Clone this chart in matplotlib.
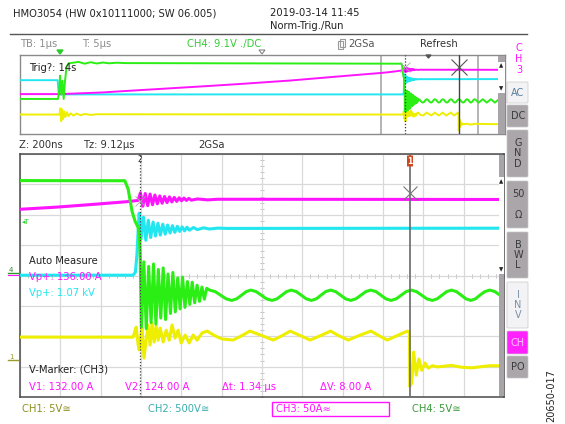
import numpy as np
import matplotlib
matplotlib.use("Agg")
import matplotlib.pyplot as plt
from matplotlib.patches import Rectangle, FancyBboxPatch, Polygon

plt.rcParams['font.family'] = ['DejaVu Sans']

# --- waveform data: (time in us after trigger, level in divisions 0..8) ---
ch4_green = [
    (-1.0, 3.55), (-0.06, 3.55), (-0.03, 4.4), (-0.01, 5.9), (0.02, 4.0), (0.05, 5.4),
    (0.08, 3.55), (0.11, 5.2), (0.15, 6.8), (0.20, 7.15), (0.28, 7.2), (0.45, 7.3),
    (0.60, 7.12), (0.75, 7.27), (0.90, 7.14), (1.05, 7.24), (1.20, 7.16), (1.40, 7.22),
    (1.60, 7.18), (8.44, 7.12), (8.456, 6.85), (8.476, 6.10), (8.491, 5.78), (8.506, 5.58),
    (8.512, 5.30), (8.516, 4.60),
    (8.522, 2.30), (8.534, 4.45), (8.546, 2.25), (8.558, 4.30), (8.570, 2.45), (8.582, 4.38),
    (8.594, 2.40), (8.606, 4.20), (8.618, 2.60), (8.630, 4.25), (8.642, 2.55), (8.654, 4.05),
    (8.666, 2.75), (8.678, 4.10), (8.690, 2.80), (8.702, 3.92), (8.714, 2.90), (8.726, 3.95),
    (8.738, 2.95), (8.750, 3.80), (8.762, 3.05), (8.774, 3.78), (8.786, 3.10), (8.798, 3.68),
    (8.810, 3.15), (8.822, 3.62), (8.834, 3.22), (8.846, 3.58),
    (8.860, 3.52), (8.888, 3.47), (8.915, 3.35), (8.943, 3.23), (8.970, 3.18), (8.994, 3.23),
    (9.018, 3.35), (9.042, 3.47), (9.065, 3.52), (9.091, 3.47), (9.117, 3.35), (9.143, 3.23),
    (9.170, 3.18), (9.194, 3.23), (9.218, 3.35), (9.242, 3.47), (9.265, 3.52), (9.290, 3.47),
    (9.315, 3.35), (9.340, 3.23), (9.365, 3.18), (9.389, 3.23), (9.412, 3.35), (9.436, 3.47),
    (9.460, 3.52), (9.485, 3.47), (9.510, 3.35), (9.535, 3.23), (9.560, 3.18), (9.585, 3.23),
    (9.610, 3.35), (9.635, 3.47), (9.660, 3.52), (9.685, 3.47), (9.710, 3.35), (9.735, 3.23),
    (9.760, 3.18), (9.785, 3.23), (9.810, 3.35), (9.835, 3.47), (9.860, 3.52), (9.886, 3.47),
    (9.912, 3.35), (9.938, 3.23), (9.965, 3.18), (9.988, 3.23), (10.012, 3.35), (10.036, 3.47),
    (10.060, 3.52), (10.084, 3.47), (10.108, 3.35), (10.132, 3.23), (10.155, 3.18), (10.178, 3.23),
    (10.200, 3.35), (10.225, 3.47), (10.250, 3.52), (10.275, 3.47), (10.300, 3.35),
    (10.350, 3.18), (10.400, 3.35), (10.450, 3.52), (10.500, 3.35), (10.550, 3.18), (10.600, 3.35),
    (10.650, 3.52), (10.700, 3.35), (10.750, 3.18), (10.800, 3.35), (10.830, 3.45),
]

ch2_cyan = [
    (-1.0, 5.45), (-0.07, 5.45), (-0.04, 4.01), (8.480, 4.01), (8.492, 4.10), (8.500, 4.70),
    (8.506, 5.50), (8.511, 6.05), (8.520, 5.20), (8.532, 5.92), (8.544, 5.16), (8.556, 5.82),
    (8.568, 5.25), (8.580, 5.76), (8.592, 5.30), (8.604, 5.72), (8.616, 5.33), (8.628, 5.69),
    (8.640, 5.36), (8.652, 5.66), (8.664, 5.40), (8.676, 5.64), (8.688, 5.42), (8.700, 5.62),
    (8.712, 5.45), (8.724, 5.60), (8.736, 5.47), (8.748, 5.59), (8.760, 5.49), (8.780, 5.58),
    (8.800, 5.51), (8.830, 5.57), (8.860, 5.53), (8.900, 5.56), (8.950, 5.55), (10.830, 5.56),
]

ch3_magenta = [
    (-1.0, 4.04), (-0.02, 4.04), (1.0, 4.20), (2.2, 4.50), (3.5, 4.82), (4.5, 5.08),
    (5.7, 5.42), (6.8, 5.80), (7.92, 6.18), (8.10, 6.25), (8.30, 6.35), (8.45, 6.43),
    (8.505, 6.47), (8.517, 6.72), (8.529, 6.28), (8.541, 6.70), (8.553, 6.30), (8.565, 6.68),
    (8.577, 6.33), (8.589, 6.65), (8.601, 6.36), (8.613, 6.62), (8.625, 6.38), (8.637, 6.60),
    (8.649, 6.40), (8.661, 6.59), (8.673, 6.42), (8.685, 6.57), (8.697, 6.44), (8.709, 6.56),
    (8.721, 6.46), (8.733, 6.55), (8.745, 6.47), (8.757, 6.54), (8.769, 6.48), (8.80, 6.52),
    (8.85, 6.49), (8.90, 6.51), (10.83, 6.50),
]

ch1_yellow = [
    (-1.0, 1.97), (-0.02, 1.97), (0.0, 2.6), (0.02, 1.3), (0.04, 2.5), (0.06, 1.5),
    (0.09, 2.3), (0.12, 1.7), (0.16, 2.2), (0.20, 1.8), (0.25, 2.1), (0.32, 1.86),
    (0.40, 2.07), (0.50, 1.90), (0.60, 2.03), (0.75, 1.93), (0.90, 2.0), (8.481, 1.97),
    (8.491, 2.20), (8.496, 2.30), (8.506, 1.71), (8.511, 1.55), (8.521, 2.11), (8.525, 2.27),
    (8.535, 1.28), (8.545, 1.87), (8.555, 2.37), (8.565, 1.71), (8.575, 2.43), (8.585, 1.81),
    (8.595, 2.34), (8.605, 1.87), (8.615, 2.27), (8.630, 1.81), (8.645, 2.20), (8.660, 1.87),
    (8.674, 2.37), (8.689, 1.94), (8.704, 2.20), (8.719, 1.78), (8.739, 2.04), (8.759, 1.78),
    (8.779, 2.04), (8.798, 1.87), (8.823, 2.11), (8.848, 2.17), (8.888, 2.01), (8.922, 1.91),
    (8.977, 1.875), (9.02, 2.02), (9.06, 2.17), (9.12, 2.02), (9.176, 1.875), (9.22, 2.02),
    (9.26, 2.17), (9.31, 2.02), (9.359, 1.875), (9.41, 2.02), (9.46, 2.17), (9.50, 2.02),
    (9.548, 1.875), (9.60, 2.02), (9.66, 2.17), (9.70, 2.02), (9.741, 1.875), (9.79, 2.02),
    (9.841, 2.17), (9.851, 2.12), (9.853, 0.35), (9.862, 0.45), (9.872, 1.48), (9.885, 0.72),
    (9.898, 1.25), (9.912, 0.88), (9.928, 1.12), (9.945, 0.95), (9.965, 1.03), (9.99, 0.99),
    (10.06, 1.04), (10.11, 0.98), (10.16, 0.96), (10.21, 1.00), (10.25, 1.03), (10.83, 0.99),
]

# record window, zoom window and cursors (us)
overview_span = (-1.0, 11.0)
zoom_span = (7.92, 10.32)
cursor_v2 = 8.516
cursor_v1 = 9.856
marker_v1_level = 6.70
marker_v2_level = 6.46

YEL = '#eeee00'
GRN = '#2aee14'
CYN = '#22e6f0'
MAG = '#ff14ff'
TXT = '#222222'

W, H = 565, 424
fig = plt.figure(figsize=(W / 100, H / 100), dpi=100)


def px_axes(x0, y0, x1, y1, **kw):
    return fig.add_axes([x0 / W, 1 - y1 / H, (x1 - x0) / W, (y1 - y0) / H], **kw)


# screen furniture layer in pixel units, kept above the trace windows
bg = px_axes(0, 0, W, H)
bg.set_xlim(0, W)
bg.set_ylim(H, 0)
bg.axis('off')
bg.set_zorder(10)


def label(x, y, s, color=TXT, size=7.2, ha='left', **kw):
    bg.text(x, y, s, color=color, fontsize=size, ha=ha, va='center', **kw)


# header
label(13, 13, "HMO3054 (HW 0x10111000; SW 06.005)")
label(270, 13, "2019-03-14 11:45")
label(270, 26, "Norm-Trig./Run")
bg.plot([10, 527], [34, 34], color='#555555', lw=1.0)

label(20, 44, "TB: 1µs", color='#8c8c8c')
label(82, 44, "T: 5µs", color='#8c8c8c')
label(187, 44, "CH4: 9.1V ./DC", color='#33cc33')
bg.add_patch(Rectangle((340, 39), 5, 8, fill=False, ec='#9a9a9a', lw=0.8))
bg.add_patch(Rectangle((338, 41), 5, 8, fill=False, ec='#9a9a9a', lw=0.8))
label(348, 44, "2GSa", color='#555555')
label(420, 44, "Refresh", color='#333333')
bg.add_patch(Polygon([[57, 50], [63, 50], [60, 54]], color='#2acc2a'))
bg.add_patch(Polygon([[259, 50], [265, 50], [262, 54]], fill=False, ec='#777777', lw=0.7))
bg.add_patch(Polygon([[426, 55], [431, 55], [428.5, 58]], color='#555555'))

label(19, 145, "Z: 200ns", color='#333333')
label(83, 145, "Tz: 9.12µs", color='#333333')
label(198, 145, "2GSa", color='#333333')

# ---- overview (full record) ----
ov = px_axes(20, 55, 505, 134)
ov.set_xlim(*overview_span)
ov.set_ylim(0, 8)
ov.set_xticks([])
ov.set_yticks([])
for s in ov.spines.values():
    s.set_color('#8a8a8a')
    s.set_linewidth(1.0)
for t in zoom_span:
    ov.axvline(t, color='#b4b4b4', lw=1.4, zorder=1)
for data, col in [(ch1_yellow, YEL), (ch2_cyan, CYN), (ch3_magenta, MAG), (ch4_green, GRN)]:
    arr = np.array(data)
    ov.plot(arr[:, 0], arr[:, 1], color=col, lw=1.4, zorder=3)
ov.axvline(cursor_v2, color='#333333', lw=0.9, ls=(0, (1, 1.5)), zorder=4)
ov.axvline(cursor_v1, color='#444444', lw=1.0, zorder=4)
ov.plot([cursor_v1], [6.8], marker='x', ms=11, mew=0.8, color='#555555', zorder=5)
ov.plot([cursor_v2], [6.8], marker='x', ms=7, mew=0.6, color='#aaaaaa', zorder=5)
ov.text(-0.78, 6.7, "Trig?: 14s", color=TXT, fontsize=7.2, va='center', zorder=6)

# overview scroll bar
bg.add_patch(Rectangle((498, 56), 6.5, 6, color='#a8a4a8', lw=0))
bg.add_patch(Rectangle((498, 62), 6.5, 31, color='white', lw=0))
bg.add_patch(Rectangle((498, 93), 6.5, 40.5, color='#a8a4a8', lw=0))
label(501.5, 66, "▲", size=4, ha='center')
label(501.5, 89, "▼", size=4, ha='center')

# ---- zoomed main window ----
ax = px_axes(20, 154, 504, 397)
ax.set_xlim(*zoom_span)
ax.set_ylim(0, 8)
ax.set_xticks(np.linspace(zoom_span[0], zoom_span[1], 13))
ax.set_yticks(np.arange(0, 9))
ax.tick_params(length=0, labelbottom=False, labelleft=False)
ax.grid(True, color='#d9d9d9', lw=0.9, zorder=0)
for s in ax.spines.values():
    s.set_color('#4a4a4a')
    s.set_linewidth(1.1)

# centre cross with minor ticks
xc = 0.5 * (zoom_span[0] + zoom_span[1])
tx = np.linspace(zoom_span[0], zoom_span[1], 61)
ty = np.linspace(0, 8, 41)
ax.plot(tx, np.full_like(tx, 4.0), ls='none',
        marker='|', ms=3.5, mew=0.7, color='#bdbdbd', zorder=1)
ax.plot(np.full_like(ty, xc), ty, ls='none',
        marker='_', ms=3.5, mew=0.7, color='#bdbdbd', zorder=1)

for data, col, z in [(ch1_yellow, YEL, 3), (ch2_cyan, CYN, 4), (ch3_magenta, MAG, 5), (ch4_green, GRN, 6)]:
    arr = np.array(data)
    ax.plot(arr[:, 0], arr[:, 1], color=col, lw=2.2, zorder=z)

ax.axvline(cursor_v2, color='#444444', lw=0.9, ls=(0, (1, 1.5)), zorder=7)
ax.axvline(cursor_v1, color='#6a6a6a', lw=1.2, zorder=7)
ax.plot([cursor_v1], [marker_v1_level], marker='x', ms=10, mew=0.8, color='#777777', zorder=8)
ax.plot([cursor_v2], [marker_v2_level], marker='x', ms=7, mew=0.6, color='#aaaaaa', zorder=8)

# main scroll bar
bg.add_patch(Rectangle((499, 155), 5, 22, color='#a8a4a8', lw=0))
bg.add_patch(Rectangle((498.5, 177), 5.5, 97, color='white', lw=0))
bg.add_patch(Rectangle((499, 274), 5, 122, color='#a8a4a8', lw=0))
label(501.5, 182, "▲", size=4, ha='center')
label(501.5, 270, "▼", size=4, ha='center')

# cursor flags
bg.add_patch(FancyBboxPatch((407.5, 156), 5, 10, boxstyle='round,pad=0.5', fc='#d2461e', ec='none'))
label(410, 161, "1", color='white', size=5.5, ha='center', fontweight='bold')
label(140, 160, "2", color='#333333', size=5.5, ha='center')

# ground / trigger markers on the left edge
label(22, 222, "◂T", color='#2acc2a', size=5)
bg.plot([8, 18], [273, 273], color='#2a9a2a', lw=1.0)
label(9, 270, "4", color='#2a8a2a', size=5)
bg.plot([8, 18], [275, 275], color=MAG, lw=0.8)
bg.plot([8, 18], [360, 360], color='#9a9a2a', lw=1.0)
label(9, 357, "1", color='#9a9a2a', size=5)

# measurement readouts
label(29, 261, "Auto Measure")
label(29, 277, "Vp+: 136.00 A", color=MAG)
label(29, 293, "Vp+: 1.07 kV", color=CYN)
label(29, 370, "V-Marker: (CH3)")
label(29, 387, "V1: 132.00 A", color=MAG)
label(125, 387, "V2: 124.00 A", color=MAG)
label(222, 387, "Δt: 1.34 µs", color=MAG)
label(320, 387, "ΔV: 8.00 A", color=MAG)

# channel settings row
label(22, 409, "CH1: 5V≅", color='#8f8f1f')
label(148, 409, "CH2: 500V≅", color='#3aadad')
bg.add_patch(Rectangle((272, 402), 117, 14, fill=False, ec=MAG, lw=1.0))
label(276, 409, "CH3: 50A≈", color=MAG)
label(412, 409, "CH4: 5V≅", color='#3a9a3a')

# side menu
for i, ch in enumerate("CH3"):
    label(519, 48 + 11 * i, ch, color=MAG, size=7, ha='center')

buttons = [
    ("AC", 82, 103, '#f3f3f5', '#5a7f9a'),
    ("DC", 105, 127, '#aaa6aa', '#3a3a3a'),
    ("G\nN\nD", 130, 177, '#aaa6aa', '#3a3a3a'),
    ("50\n\nΩ", 181, 228, '#aaa6aa', '#3a3a3a'),
    ("B\nW\nL", 232, 278, '#aaa6aa', '#3a3a3a'),
    ("I\nN\nV", 282, 328, '#f3f3f5', '#7a90a8'),
    ("CH", 331, 354, '#ff22ff', '#ffc8ff'),
    ("PO", 356, 378, '#aaa6aa', '#3a3a3a'),
]
for txt, y0, y1, fc, tc in buttons:
    bg.add_patch(FancyBboxPatch((508, y0 + 1), 19, y1 - y0 - 2, boxstyle='round,pad=1',
                                fc=fc, ec='#c8c8c8', lw=0.5))
    bg.text(518, 0.5 * (y0 + y1), txt, color=tc, fontsize=7, ha='center', va='center',
            linespacing=1.05)

bg.text(551, 396, "20650-017", color=TXT, fontsize=7, rotation=90, ha='center', va='center')

fig.savefig("out.png", dpi=100)
